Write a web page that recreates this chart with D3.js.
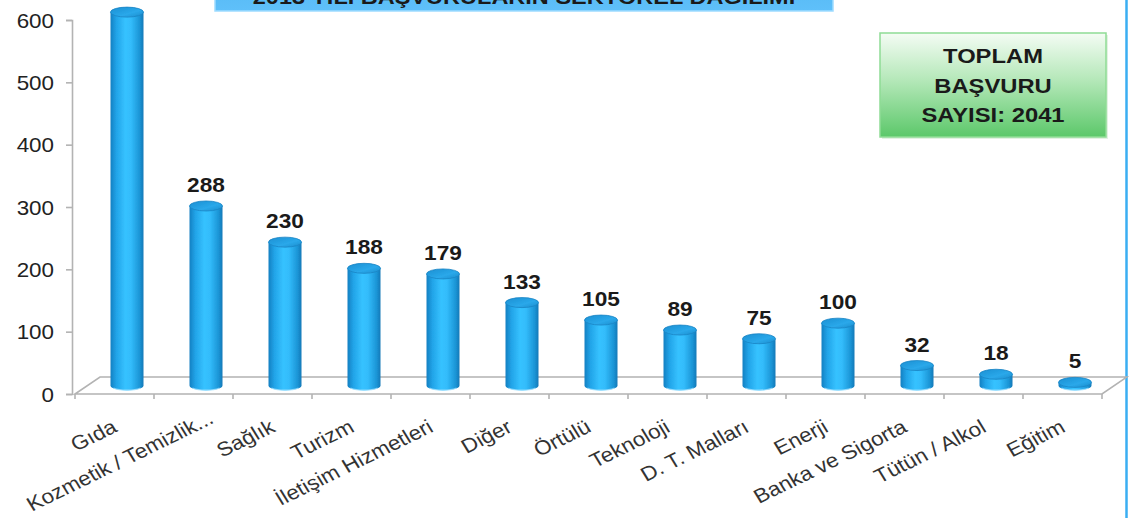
<!DOCTYPE html>
<html lang="tr">
<head>
<meta charset="utf-8">
<script src="https://cdn.jsdelivr.net/npm/d3@7"></script>
<style>
  html, body { margin: 0; padding: 0; background: #fff; }
  svg { display: block; font-family: "Liberation Sans", Arial, sans-serif; }
</style>
</head>
<body>
<svg id="chart" width="1129" height="518"></svg>
<script>
// Sector breakdown of applications
const categories = ["Gıda", "Kozmetik / Temizlik...", "Sağlık", "Turizm", "İletişim Hizmetleri",
  "Diğer", "Örtülü", "Teknoloji", "D. T. Malları", "Enerji", "Banka ve Sigorta", "Tütün / Alkol", "Eğitim"];
const values = [599, 288, 230, 188, 179, 133, 105, 89, 75, 100, 32, 18, 5];
const yTicks = [0, 100, 200, 300, 400, 500, 600];
const titleText = "2013 YILI BAŞVURULARIN SEKTÖREL DAĞILIMI";
const totalLines = ["TOPLAM", "BAŞVURU", "SAYISI: 2041"];

const W = 1129, H = 518;
const svg = d3.select("#chart");
const defs = svg.append("defs");

// 3D floor geometry
const depthX = 25, depthY = -17;
const x = d3.scaleBand().domain(categories).range([75, 1102]).paddingInner(0).paddingOuter(0);
const y = d3.scaleLinear().domain([0, 600]).range([394, 20]);
const barW = 33, rx = barW / 2, ry = 5;
const midX = depthX / 2, midY = depthY / 2;
const TX = 1.12; // horizontal text stretch

// gradients
const cyl = defs.append("linearGradient").attr("id", "cyl").attr("x1", 0).attr("x2", 1).attr("y1", 0).attr("y2", 0);
[["0%", "#1380c2"], ["18%", "#22a4e8"], ["45%", "#36c2ff"], ["62%", "#33bcfb"], ["88%", "#1c95d6"], ["100%", "#1279b8"]]
  .forEach(([o, c]) => cyl.append("stop").attr("offset", o).attr("stop-color", c));
const topG = defs.append("linearGradient").attr("id", "cyltop").attr("x1", 0).attr("x2", 1).attr("y1", 0).attr("y2", 1);
[["0%", "#1a8fd2"], ["60%", "#2aa8ea"], ["100%", "#1b8ccc"]]
  .forEach(([o, c]) => topG.append("stop").attr("offset", o).attr("stop-color", c));
const green = defs.append("linearGradient").attr("id", "green").attr("x1", 0).attr("x2", 0).attr("y1", 0).attr("y2", 1);
[["0%", "#f4fcf4"], ["45%", "#b5e8b9"], ["100%", "#5cc86a"]]
  .forEach(([o, c]) => green.append("stop").attr("offset", o).attr("stop-color", c));
const blue = defs.append("linearGradient").attr("id", "blue").attr("x1", 0).attr("x2", 0).attr("y1", 0).attr("y2", 1);
[["0%", "#4fb3ee"], ["100%", "#5fc0fa"]]
  .forEach(([o, c]) => blue.append("stop").attr("offset", o).attr("stop-color", c));
const soft = defs.append("filter").attr("id", "soft").attr("x", "-10%").attr("y", "-10%").attr("width", "120%").attr("height", "120%");
soft.append("feGaussianBlur").attr("stdDeviation", 0.5);

// title banner
svg.append("rect").attr("x", 215).attr("y", -40).attr("width", 618).attr("height", 51)
  .attr("fill", "url(#blue)").attr("stroke", "#9fdcff").attr("stroke-width", 1.5);
svg.append("text").attr("transform", `translate(524,3.5) scale(${TX},1)`)
  .attr("text-anchor", "middle").attr("font-size", 21).attr("font-weight", "bold").attr("fill", "#1a1a1a")
  .text(titleText);

// slide border on the right
svg.append("line").attr("x1", 1126.5).attr("x2", 1126.5).attr("y1", 0).attr("y2", H)
  .attr("stroke", "#3aaef2").attr("stroke-width", 2.5);

// floor
const gridCol = "#b3b3b3";
const [fx0, fx1] = x.range();
const y0 = y(0);
const floor = svg.append("g").attr("fill", "none").attr("stroke", gridCol).attr("stroke-width", 1.6);
floor.append("path").attr("d",
  `M${fx0},${y0} L${fx1},${y0} L${fx1 + depthX},${y0 + depthY} L${fx0 + depthX},${y0 + depthY} Z`);

// category ticks at band boundaries
const bounds = categories.map(c => x(c)).concat([fx1]);
floor.selectAll("line.ct").data(bounds).join("line").attr("class", "ct")
  .attr("x1", d => d).attr("x2", d => d).attr("y1", y0).attr("y2", y0 + 5);

// y axis
const yAxis = svg.append("g").attr("transform", "translate(72,0)")
  .call(d3.axisLeft(y).tickValues(yTicks).tickSize(6).tickPadding(12).tickFormat(d3.format("d")));
yAxis.select(".domain").attr("stroke", gridCol).attr("stroke-width", 1.6);
yAxis.selectAll(".tick line").attr("stroke", gridCol).attr("stroke-width", 1.6);
yAxis.selectAll(".tick text").attr("font-size", 20).attr("fill", "#222")
  .attr("font-family", "Liberation Sans, Arial, sans-serif")
  .attr("transform", `scale(${TX},1)`).attr("x", -18 / TX).attr("dy", "0.36em");

// cylinders
const bars = svg.append("g").selectAll("g").data(values.map((v, i) => ({ c: categories[i], v })))
  .join("g").attr("filter", "url(#soft)");
bars.each(function (d) {
  const g = d3.select(this);
  const cx = x(d.c) + x.bandwidth() / 2 + midX;
  const yb = y(0) + midY, yt = y(d.v) + midY;
  g.append("path").attr("fill", "url(#cyl)").attr("d",
    `M${cx - rx},${yt} L${cx - rx},${yb} A${rx},${ry} 0 0 0 ${cx + rx},${yb} L${cx + rx},${yt} Z`);
  // light rim at the base
  g.append("path").attr("fill", "none").attr("stroke", "#9fe0ff").attr("stroke-width", 1.2).attr("opacity", 0.8)
    .attr("d", `M${cx - rx + 3},${yb + 2.5} A${rx},${ry} 0 0 0 ${cx + rx - 3},${yb + 2.5}`);
  g.append("ellipse").attr("cx", cx).attr("cy", yt).attr("rx", rx).attr("ry", ry)
    .attr("fill", "url(#cyltop)").attr("stroke", "#1a84c4").attr("stroke-width", 0.8);
});

// value labels
svg.append("g").selectAll("text").data(values.map((v, i) => ({ c: categories[i], v })))
  .join("text")
  .attr("transform", d => `translate(${x(d.c) + x.bandwidth() / 2 + midX},${y(d.v) + midY - 14}) scale(1.08,1)`)
  .attr("text-anchor", "middle").attr("font-size", 21).attr("font-weight", "bold").attr("fill", "#1a1a1a")
  .text(d => d.v);

// rotated category labels
const tilt = 26 * Math.PI / 180;
const ang = Math.atan(TX * Math.tan(tilt)) * 180 / Math.PI;
const labY = 431;
const labG = svg.append("g");
const labs = labG.selectAll("g").data(categories).join("g")
  .attr("transform", d => `translate(${x(d) + x.bandwidth() / 2 + 4},${labY})`);
labs.append("text")
  .attr("transform", `scale(${TX},1) rotate(${-ang})`)
  .attr("text-anchor", "end").attr("font-size", 20).attr("fill", "#333")
  .text(d => d);
// keep labels inside the chart area: slide them along their own direction
labs.each(function (d) {
  const b = this.getBoundingClientRect();
  const t = Math.max(0, (3 - b.left) / Math.cos(tilt), (b.bottom - (H - 3)) / Math.sin(tilt));
  if (t > 0) {
    d3.select(this).attr("transform",
      `translate(${x(d) + x.bandwidth() / 2 + 4 + t * Math.cos(tilt)},${labY - t * Math.sin(tilt)})`);
  }
});

// total box
const bx = 880, by = 33, bw = 226, bh = 104;
svg.append("rect").attr("x", bx + 2).attr("y", by + 2).attr("width", bw).attr("height", bh)
  .attr("fill", "#cfe9cf").attr("opacity", 0.6);
svg.append("rect").attr("x", bx).attr("y", by).attr("width", bw).attr("height", bh)
  .attr("fill", "url(#green)").attr("stroke", "#8fdc95").attr("stroke-width", 1.5);
svg.append("g").selectAll("text").data(totalLines).join("text")
  .attr("transform", (d, i) => `translate(${bx + bw / 2},${63 + i * 29.5}) scale(1.16,1)`)
  .attr("text-anchor", "middle").attr("font-size", 20.5).attr("font-weight", "bold").attr("fill", "#1a1a1a")
  .text(d => d);
</script>
</body>
</html>
